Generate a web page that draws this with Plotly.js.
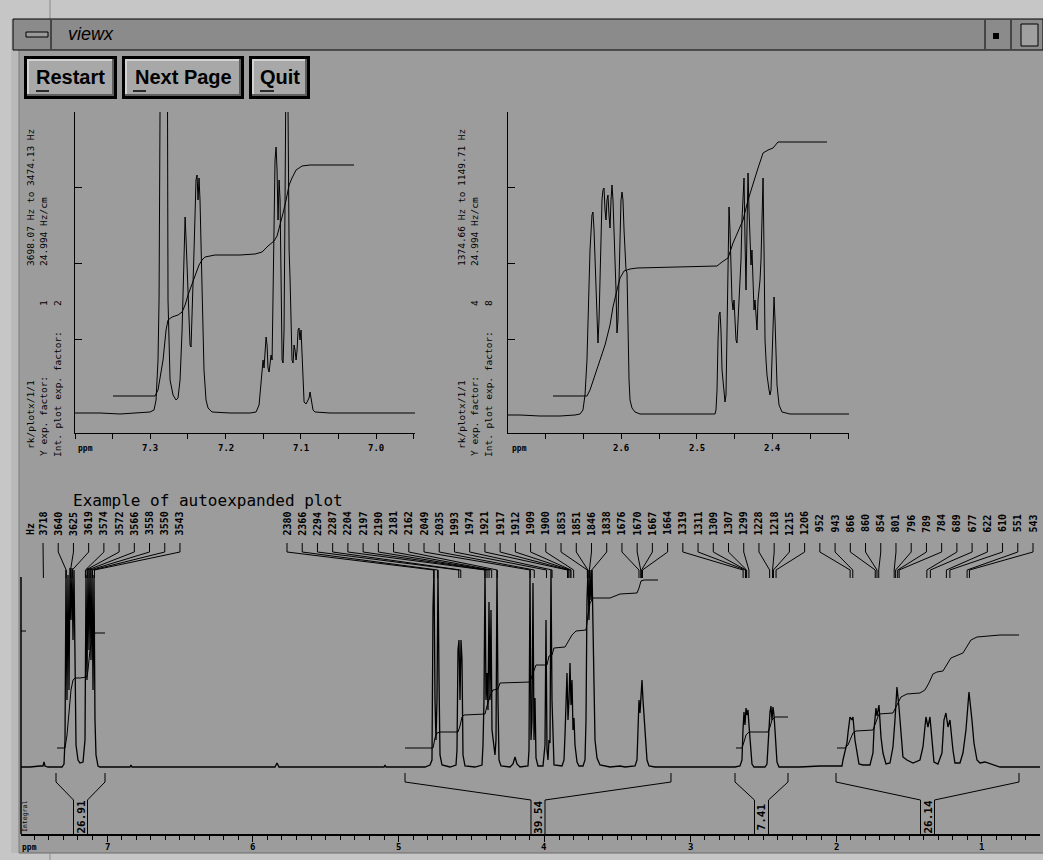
<!DOCTYPE html>
<html><head><meta charset="utf-8">
<script src="https://cdn.plot.ly/plotly-3.0.1.min.js"></script>
<style>html,body{margin:0;padding:0;background:#9c9c9c;overflow:hidden}#chart{width:1043px;height:860px}</style>
</head><body><div id="chart"></div>
<script>
const W = 1043, H = 860;
const SPEC_MHZ = 500;

// ---------- inset 1 (7.40 - 6.95 ppm) ----------
const ins1Ppm = [7.4001,7.3669,7.3403,7.3137,7.3004,7.2951,7.2924,7.2898,7.2884,7.2858,7.2778,7.2765,7.2738,7.2698,7.2658,7.2632,7.2605,7.2578,7.2552,7.2538,7.2525,7.2499,7.2472,7.2459,7.2446,7.2419,7.2393,7.2379,7.2366,7.2353,7.2340,7.2313,7.2287,7.2260,7.2233,7.2180,7.1941,7.1675,7.1595,7.1555,7.1529,7.1515,7.1502,7.1489,7.1475,7.1462,7.1449,7.1436,7.1422,7.1409,7.1396,7.1382,7.1369,7.1356,7.1343,7.1329,7.1316,7.1303,7.1289,7.1276,7.1263,7.1249,7.1236,7.1223,7.1210,7.1196,7.1183,7.1170,7.1156,7.1143,7.1130,7.1117,7.1103,7.1090,7.1077,7.1063,7.1050,7.1037,7.1024,7.1011,7.0997,7.0984,7.0971,7.0957,7.0931,7.0904,7.0891,7.0878,7.0864,7.0838,7.0811,7.0612,7.0213,6.9483];
const ins1Int = [0,0,-1,0,1,3,13,53,113,500,500,113,33,18,13,15,33,83,173,196,173,113,68,66,93,163,233,238,213,235,213,113,43,13,5,1,0,0,1,8,33,48,53,45,68,76,68,45,41,53,58,53,113,213,253,266,243,193,233,213,113,53,50,83,213,301,500,301,163,133,83,53,50,68,63,53,63,83,85,73,83,53,23,11,9,13,15,21,13,3,1,0,0,0];
const ins1IntegPpm = [7.3496,7.2938,7.2898,7.2871,7.2831,7.2791,7.2765,7.2711,7.2632,7.2578,7.2538,7.2499,7.2459,7.2406,7.2353,7.2313,7.2273,7.2140,7.1808,7.1608,7.1515,7.1436,7.1356,7.1316,7.1276,7.1236,7.1196,7.1156,7.1117,7.1063,7.0984,7.0878,7.0293];
const ins1IntegVal = [17,17,23,35,53,83,93,96,98,101,108,118,126,138,148,153,156,158,158,159,161,167,172,177,188,200,213,228,235,243,247,248,248];

// ---------- inset 2 (2.75 - 2.30 ppm) ----------
const ins2Ppm = [2.7493,2.7335,2.7071,2.6807,2.6609,2.6543,2.6504,2.6477,2.6451,2.6424,2.6411,2.6385,2.6372,2.6358,2.6345,2.6332,2.6319,2.6306,2.6292,2.6279,2.6266,2.6253,2.6240,2.6226,2.6213,2.6200,2.6187,2.6174,2.6160,2.6147,2.6134,2.6121,2.6108,2.6094,2.6081,2.6068,2.6055,2.6042,2.6028,2.6015,2.6002,2.5989,2.5976,2.5962,2.5936,2.5923,2.5910,2.5896,2.5883,2.5857,2.5817,2.5751,2.5487,2.5092,2.4762,2.4749,2.4735,2.4722,2.4709,2.4696,2.4683,2.4669,2.4643,2.4630,2.4617,2.4604,2.4590,2.4577,2.4564,2.4551,2.4538,2.4524,2.4511,2.4498,2.4485,2.4472,2.4458,2.4445,2.4432,2.4419,2.4406,2.4392,2.4379,2.4366,2.4353,2.4340,2.4326,2.4313,2.4300,2.4287,2.4274,2.4260,2.4247,2.4234,2.4221,2.4208,2.4194,2.4181,2.4168,2.4155,2.4142,2.4128,2.4115,2.4102,2.4089,2.4076,2.4049,2.4036,2.4023,2.4010,2.3996,2.3983,2.3970,2.3957,2.3944,2.3917,2.3878,2.3772,2.2994];
const ins2Int = [0,0,-1,-1,0,1,5,20,55,115,165,200,203,185,155,115,85,72,95,135,185,215,225,227,205,195,215,220,200,187,215,230,215,188,165,125,82,95,135,185,215,223,215,185,145,142,85,35,15,7,3,1,1,1,1,5,25,75,100,103,85,45,20,13,20,85,175,208,185,135,115,105,115,95,75,72,95,115,125,155,195,215,237,175,125,185,242,205,165,150,165,125,105,115,95,85,115,125,135,155,195,237,165,75,55,40,25,20,25,55,100,118,95,55,30,10,3,1,1];
const ins2IntegPpm = [2.6899,2.6451,2.6411,2.6345,2.6279,2.6213,2.6147,2.6108,2.6055,2.6015,2.5962,2.5883,2.5791,2.5224,2.4735,2.4669,2.4590,2.4524,2.4458,2.4392,2.4326,2.4260,2.4194,2.4128,2.4062,2.3996,2.3931,2.3772,2.3284];
const ins2IntegVal = [19,19,25,40,55,70,90,108,125,137,144,146,147,148,149,153,157,172,183,195,215,232,247,262,265,267,273,273,273];

// ---------- full spectrum ----------
const mainPpm = [7.5897,7.5280,7.4594,7.4388,7.4320,7.4251,7.4045,7.3085,7.2948,7.2880,7.2811,7.2743,7.2674,7.2605,7.2537,7.2468,7.2400,7.2331,7.2263,7.2194,7.2125,7.1988,7.1851,7.1645,7.1508,7.1440,7.1371,7.1303,7.1234,7.1165,7.1097,7.1028,7.0960,7.0891,7.0823,7.0754,7.0617,7.0480,6.8423,6.8354,6.8286,6.4994,6.3622,5.8480,5.8343,5.8206,5.1005,5.0937,5.0868,4.8194,4.7851,4.7714,4.7645,4.7576,4.7508,4.7439,4.7371,4.7302,4.7234,4.7165,4.7028,4.6479,4.6068,4.5999,4.5931,4.5862,4.5793,4.5725,4.5656,4.5588,4.5451,4.4765,4.4285,4.4216,4.4148,4.4079,4.4011,4.3942,4.3874,4.3805,4.3736,4.3668,4.3599,4.3531,4.3394,4.3325,4.3257,4.3188,4.3119,4.2982,4.2365,4.2159,4.2022,4.1885,4.1679,4.1131,4.1062,4.0993,4.0925,4.0856,4.0788,4.0719,4.0650,4.0582,4.0445,4.0102,3.9965,3.9896,3.9828,3.9759,3.9691,3.9622,3.9554,3.9485,3.9416,3.9348,3.8799,3.8662,3.8593,3.8456,3.8388,3.8319,3.8250,3.8182,3.8113,3.8045,3.7976,3.7908,3.7770,3.7633,3.7359,3.7222,3.7153,3.7085,3.7016,3.6948,3.6879,3.6810,3.6742,3.6673,3.6605,3.6536,3.6399,3.6193,3.5508,3.4822,3.4479,3.3793,3.3656,3.3588,3.3519,3.3450,3.3382,3.3313,3.3245,3.3176,3.3108,3.3039,3.2970,3.2833,3.2422,2.9336,2.6936,2.6594,2.6457,2.6388,2.6320,2.6251,2.6182,2.6114,2.6045,2.5977,2.5908,2.5840,2.5771,2.5634,2.4880,2.4743,2.4674,2.4606,2.4537,2.4468,2.4400,2.4331,2.4263,2.4194,2.4125,2.4057,2.3920,2.2480,2.1109,1.9600,1.9531,1.9257,1.9188,1.9051,1.8914,1.8846,1.8709,1.8572,1.8435,1.8160,1.7680,1.7475,1.7406,1.7269,1.7200,1.7063,1.6926,1.6789,1.6583,1.6309,1.6103,1.5966,1.5829,1.5692,1.5555,1.5418,1.5144,1.4732,1.4252,1.4047,1.3841,1.3704,1.3567,1.3430,1.3292,1.3018,1.2744,1.2607,1.2470,1.2333,1.2196,1.1990,1.1853,1.1510,1.1304,1.1098,1.0892,1.0687,1.0550,1.0344,1.0138,0.9794,0.9589,0.9246,0.8764,0.6021];
const mainInt = [0,0,1,1,5,1,0,0,3,27,197,67,192,77,199,147,199,127,197,67,22,7,4,5,27,192,87,199,117,199,107,197,77,192,47,12,1,0,0,2,0,0,0,0,4,0,0,2,0,0,2,7,159,197,67,27,67,197,90,12,2,0,2,17,117,127,67,127,107,12,1,0,2,22,67,197,67,94,57,165,67,157,37,27,12,27,197,67,7,1,0,3,10,3,0,1,17,197,27,47,184,27,69,9,1,1,22,147,17,7,27,24,197,67,17,2,1,7,32,94,47,67,104,62,87,37,49,22,5,1,1,7,47,167,197,147,197,167,197,127,67,27,9,2,0,1,0,1,7,45,67,54,77,87,67,54,42,22,7,1,0,0,0,1,7,37,55,42,59,52,57,42,27,12,3,0,0,3,22,47,55,61,47,60,52,37,17,5,0,0,1,1,7,24,34,50,47,50,27,14,3,2,2,14,37,59,51,62,30,14,3,4,20,47,80,60,30,10,7,4,7,20,50,40,50,27,5,3,14,47,54,40,47,17,4,4,14,37,75,47,24,7,4,5,4,2,0,0];

// integral curves of the full spectrum
const integ1Ppm = [7.3428,7.2880,7.2743,7.2605,7.2468,7.2331,7.2194,7.1851,7.1371,7.1303,7.1165,7.1028,7.0891,7.0823,7.0137];
const integ1Val = [19,19,32,57,77,87,89,89,90,97,117,127,132,134,134];
const integ2Ppm = [4.9565,4.7645,4.7508,4.7371,4.7165,4.5931,4.5793,4.5656,4.5519,4.4079,4.3942,4.3736,4.3531,4.3188,4.3051,4.0993,4.0856,4.0719,4.0582,3.9828,3.9691,3.9485,3.9348,3.8593,3.8388,3.8113,3.7839,3.7153,3.7016,3.6879,3.6673,3.5508,3.4822,3.3656,3.3519,3.3382,3.3176,3.2216];
const integ2Val = [19,19,29,34,35,35,41,50,52,53,61,71,77,78,84,85,91,97,102,102,111,112,119,120,125,132,136,137,152,164,169,169,173,174,179,186,187,187];
const integ3Ppm = [2.6868,2.6457,2.6320,2.6182,2.5977,2.4674,2.4537,2.4400,2.4194,2.3303];
const integ3Val = [19,19,25,32,35,35,40,47,50,50];
const integ4Ppm = [1.9942,1.9394,1.9188,1.8983,1.8846,1.8640,1.7475,1.7269,1.7063,1.6103,1.5829,1.5555,1.5144,1.4252,1.3910,1.3636,1.3361,1.3087,1.2676,1.2402,1.2128,1.1304,1.1030,1.0756,1.0344,0.9452,0.8764,0.7461];
const integ4Val = [19,19,22,29,34,36,37,45,53,54,62,70,73,74,77,84,93,95,96,102,109,114,121,127,130,131,132,132];

// integral regions (ppm) and values
const regionStart = [7.3497, 4.9565, 2.6936, 2.0010];
const regionEnd   = [7.0137, 3.1326, 2.3302, 0.7461];
const regionValue = ["26.91", "39.54", "7.41", "26.14"];

// peak labels (Hz)
const peaksGroupA = [3718,3640,3625,3619,3574,3572,3566,3558,3550,3543];
const peaksGroupB = [2380,2366,2294,2287,2204,2197,2190,2181,2162,2049,2035,1993,1974,1921,1917,1912,1909,1900,1853,1851,1846,1838,1676,1670,1667,1664,1319,1311,1309,1307,1299,1228,1218,1215,1206,952,943,866,860,854,801,796,789,784,689,677,622,610,551,543];

// axis tick labels
const mainTickVals = [7, 6, 5, 4, 3, 2, 1];
const inset1TickVals = [7.40,7.35,7.30,7.25,7.20,7.15,7.10,7.05,7.00,6.95];
const inset1Labeled = [7.3, 7.2, 7.1, 7.0];
const inset2TickVals = [2.75,2.70,2.65,2.60,2.55,2.50,2.45,2.40,2.35,2.30];
const inset2Labeled = [2.6, 2.5, 2.4];

// ---------- layout helpers ----------
const PX = x => x / W;
const PY = y => 1 - y / H;
const MONO = "DejaVu Sans Mono";
const SANS = "Liberation Sans";

const x3Dom = [PX(21), PX(1040)], x3Rng = [7.5897, 0.6021];
const y3Dom = [PY(834), PY(500)], y3Rng = [-67, 267];
function pxToPpm3(px) { const f = (PX(px) - x3Dom[0]) / (x3Dom[1] - x3Dom[0]); return x3Rng[0] + f * (x3Rng[1] - x3Rng[0]); }
function pyToInt3(py) { const f = (PY(py) - y3Dom[0]) / (y3Dom[1] - y3Dom[0]); return y3Rng[0] + f * (y3Rng[1] - y3Rng[0]); }

const BLK = {color: "#000", width: 1};
const SPEC = {color: "#000", width: 1.3};
const traces = [
  {x: ins1Ppm, y: ins1Int, xaxis: "x", yaxis: "y", mode: "lines", line: BLK},
  {x: ins1IntegPpm, y: ins1IntegVal, xaxis: "x", yaxis: "y", mode: "lines", line: BLK},
  {x: ins2Ppm, y: ins2Int, xaxis: "x2", yaxis: "y2", mode: "lines", line: BLK},
  {x: ins2IntegPpm, y: ins2IntegVal, xaxis: "x2", yaxis: "y2", mode: "lines", line: BLK},
  {x: mainPpm, y: mainInt, xaxis: "x3", yaxis: "y3", mode: "lines", line: SPEC},
  {x: integ1Ppm, y: integ1Val, xaxis: "x3", yaxis: "y3", mode: "lines", line: BLK},
  {x: integ2Ppm, y: integ2Val, xaxis: "x3", yaxis: "y3", mode: "lines", line: BLK},
  {x: integ3Ppm, y: integ3Val, xaxis: "x3", yaxis: "y3", mode: "lines", line: BLK},
  {x: integ4Ppm, y: integ4Val, xaxis: "x3", yaxis: "y3", mode: "lines", line: BLK}
];

// peak label leaders
const annotations = [];
const labelTextY = 523.5;
function addLabels(list, startPx, stepPx) {
  const cx = [], cy = [];
  list.forEach((hz, i) => {
    const lx = startPx + i * stepPx;
    const lp = pxToPpm3(lx);
    const pp = hz / SPEC_MHZ;
    cx.push(lp, lp, pp, pp, null);
    cy.push(pyToInt3(543), pyToInt3(552), pyToInt3(570), pyToInt3(578), null);
    annotations.push({xref: "paper", yref: "paper", x: PX(lx), y: PY(labelTextY), text: String(hz),
      textangle: -90, showarrow: false, xanchor: "center", yanchor: "middle",
      font: {family: MONO, size: 10, color: "#000", weight: "bold"}});
  });
  traces.push({x: cx, y: cy, xaxis: "x3", yaxis: "y3", mode: "lines", line: BLK});
}
addLabels(peaksGroupA, 43, 15.22);
addLabels(peaksGroupB, 287, (1033 - 287) / (peaksGroupB.length - 1));
annotations.push({xref: "paper", yref: "paper", x: PX(30), y: PY(529), text: "Hz", textangle: -90, showarrow: false,
  xanchor: "center", yanchor: "middle", font: {family: MONO, size: 10, color: "#000", weight: "bold"}});

// integral brackets
{
  const bx = [], by = [];
  const hw = 7 / 145.83;
  regionStart.forEach((s, i) => {
    const e = regionEnd[i], m = (s + e) / 2;
    bx.push(s, s, m + hw, m + hw, null, m - hw, m - hw, e, e, null);
    by.push(pyToInt3(773), pyToInt3(782), pyToInt3(800), pyToInt3(834), null, pyToInt3(834), pyToInt3(800), pyToInt3(782), pyToInt3(773), null);
    annotations.push({xref: "x3", yref: "y3", x: m, y: pyToInt3(817), text: regionValue[i], textangle: -90, showarrow: false,
      xanchor: "center", yanchor: "middle", font: {family: MONO, size: 11, color: "#000", weight: "bold"}});
  });
  traces.push({x: bx, y: by, xaxis: "x3", yaxis: "y3", mode: "lines", line: BLK});
}

// texts
function txt(x, y, t, size, opts) {
  annotations.push(Object.assign({xref: "paper", yref: "paper", x: PX(x), y: PY(y), text: t, showarrow: false,
    xanchor: "center", yanchor: "middle", font: {family: MONO, size: size, color: "#000"}}, opts || {}));
}
const TICKFONT = {family: MONO, size: 9, color: "#000", weight: "bold"};
mainTickVals.forEach(v => annotations.push({xref: "x3", yref: "paper", x: v, y: PY(847), text: String(v),
  showarrow: false, xanchor: "center", yanchor: "middle", font: TICKFONT}));
inset1Labeled.forEach(v => annotations.push({xref: "x", yref: "paper", x: v, y: PY(448), text: v.toFixed(1),
  showarrow: false, xanchor: "center", yanchor: "middle", font: TICKFONT}));
inset2Labeled.forEach(v => annotations.push({xref: "x2", yref: "paper", x: v, y: PY(448), text: v.toFixed(1),
  showarrow: false, xanchor: "center", yanchor: "middle", font: TICKFONT}));

txt(208, 501, "Example of autoexpanded plot", 16);
txt(25, 817, "Integral", 6.5, {textangle: -90});
txt(29, 847, "ppm", 8, {font: {family: MONO, size: 8, color: "#000", weight: "bold"}});
txt(85, 448, "ppm", 8, {font: {family: MONO, size: 8, color: "#000", weight: "bold"}});
txt(519, 448, "ppm", 8, {font: {family: MONO, size: 8, color: "#000", weight: "bold"}});
// inset info texts
function insetInfo(x0, range1, f1, f2) {
  txt(x0, 415, "rk/plotx/1/1", 9.5, {textangle: -90});
  txt(x0, 198, range1, 9.5, {textangle: -90});
  txt(x0 + 13, 416, "Y exp. factor:", 9.5, {textangle: -90});
  txt(x0 + 13, 303, f1, 9.5, {textangle: -90});
  txt(x0 + 13, 232, "24.994 Hz/cm", 9.5, {textangle: -90});
  txt(x0 + 27, 394, "Int. plot exp. factor:", 9.5, {textangle: -90});
  txt(x0 + 27, 303, f2, 9.5, {textangle: -90});
}
insetInfo(30, "3698.07 Hz to 3474.13 Hz", "1", "2");
insetInfo(461, "1374.66 Hz to 1149.71 Hz", "4", "8");

// window chrome
txt(91, 34, "viewx", 18, {font: {family: SANS, size: 18, color: "#000", style: "italic"}});
const buttons = [
  {x0: 24, x1: 117, label: "Restart"},
  {x0: 122, x1: 244, label: "Next Page"},
  {x0: 249, x1: 310, label: "Quit"}
];
const shapes = [];
function rect(x0, y0, x1, y1, fill, line) {
  shapes.push({type: "rect", xref: "paper", yref: "paper", x0: PX(x0), x1: PX(x1), y0: PY(y1), y1: PY(y0),
    fillcolor: fill, line: line || {width: 0}, layer: "below"});
}
function seg(x0, y0, x1, y1, color, width, layer) {
  shapes.push({type: "line", xref: "paper", yref: "paper", x0: PX(x0), x1: PX(x1), y0: PY(y0), y1: PY(y1),
    line: {color: color, width: width}, layer: layer || "below"});
}
rect(0, 0, 11, 860, "#c6c6c6");
rect(11, 19, 19, 860, "#b9b9b9");
seg(19, 50, 19, 853, "#7a7a7a", 1);
rect(0, 0, 1043, 19, "#c6c6c6");
seg(50, 0, 50, 19, "#8a8a8a", 1);
rect(0, 853, 1043, 860, "#c6c6c6");
seg(19, 853, 1043, 853, "#6a6a6a", 1);
seg(50, 853, 50, 860, "#8a8a8a", 1);
rect(13, 19, 1043, 50, "#8b8b8b", {color: "#000", width: 1});
rect(26, 32, 48, 37, "#9a9a9a", {color: "#000", width: 1});
seg(51, 20, 51, 49, "#000", 1);
seg(985, 20, 985, 49, "#000", 1);
rect(993, 33, 999, 39, "#000");
seg(1011, 20, 1011, 49, "#000", 1);
rect(1021, 24, 1038, 46, "#a0a0a0", {color: "#000", width: 1});
buttons.forEach(b => {
  rect(b.x0, 56, b.x1, 99, "#000");
  rect(b.x0 + 3, 59, b.x1 - 3, 96, "#5e5e5e");
  rect(b.x0 + 3, 59, b.x1 - 5, 94, "#d2d2d2");
  rect(b.x0 + 5, 61, b.x1 - 5, 94, "#a8a8a8");
  const cx = (b.x0 + b.x1) / 2;
  txt(cx, 77, b.label, 20, {font: {family: SANS, size: 20, color: "#000", weight: "bold"}});
  const w = b.label === "Quit" ? 14 : 13;
  const fx = b.label === "Restart" ? 36 : (b.label === "Next Page" ? 133 : 260);
  seg(fx, 91, fx + w, 91, "#000", 1.5, "above");
});
// main left axis
seg(21, 577, 21, 834, "#000", 1.5, "above");
seg(21, 631, 26, 631, "#000", 1, "above");

const axBase = {showgrid: false, zeroline: false, showline: true, linecolor: "#000", linewidth: 1,
  tickcolor: "#000", showticklabels: false, fixedrange: true};

const layout = {
  width: W, height: H, margin: {l: 0, r: 0, t: 0, b: 0},
  paper_bgcolor: "#9c9c9c", plot_bgcolor: "rgba(0,0,0,0)",
  showlegend: false, hovermode: false,
  xaxis: Object.assign({}, axBase, {domain: [PX(75), PX(415)], range: [7.4001, 6.9483], anchor: "y",
    ticks: "outside", ticklen: 5, tickvals: inset1TickVals}),
  yaxis: Object.assign({}, axBase, {domain: [PY(433), PY(112)], range: [-20, 301], anchor: "x",
    ticks: "inside", ticklen: 7, tickvals: [74, 150, 226, 301]}),
  xaxis2: Object.assign({}, axBase, {domain: [PX(508), PX(849)], range: [2.7493, 2.2994], anchor: "y2",
    ticks: "outside", ticklen: 5, tickvals: inset2TickVals}),
  yaxis2: Object.assign({}, axBase, {domain: [PY(433), PY(112)], range: [-18, 303], anchor: "x2",
    ticks: "inside", ticklen: 7, tickvals: [76, 152, 228, 303]}),
  xaxis3: Object.assign({}, axBase, {domain: x3Dom, range: x3Rng, anchor: "y3", linewidth: 1.5,
    ticks: "outside", ticklen: 6, tickvals: mainTickVals,
    minor: {dtick: 0.1, tick0: 0, ticks: "outside", ticklen: 4, tickcolor: "#000", showgrid: false}}),
  yaxis3: {domain: y3Dom, range: y3Rng, anchor: "x3", visible: false, fixedrange: true},
  shapes: shapes,
  annotations: annotations
};
Plotly.newPlot("chart", traces, layout, {staticPlot: true, displayModeBar: false});
</script>
</body></html>
